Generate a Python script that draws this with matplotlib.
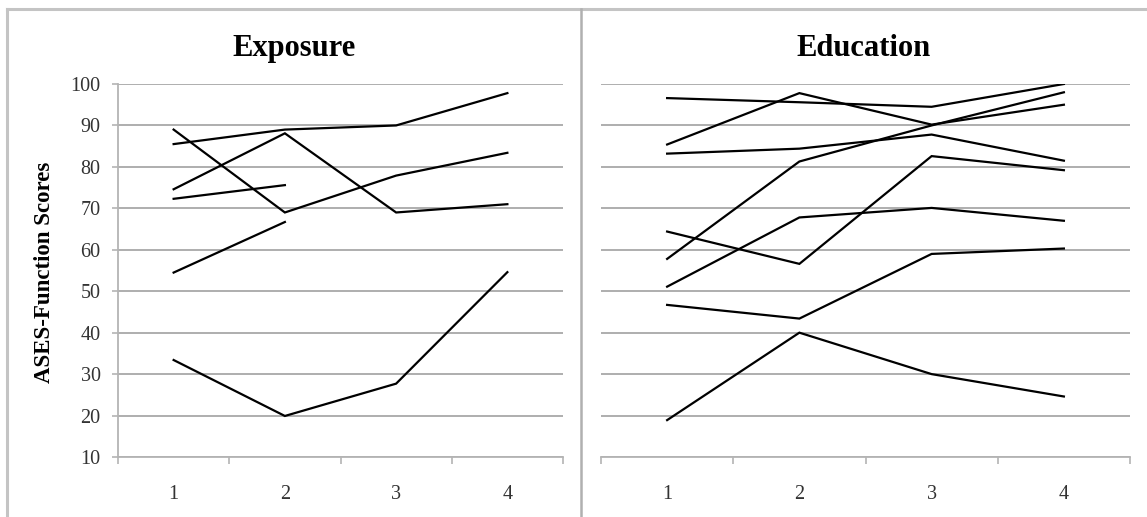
import numpy as np
import matplotlib
matplotlib.use("Agg")
from matplotlib import pyplot as plt
from matplotlib.lines import Line2D

plt.rcParams["font.family"] = ["Liberation Serif", "DejaVu Serif"]

# time points
visits = [1, 2, 3, 4]

# Exposure group, one list per subject (some have only two visits)
exposure = [
    [85.5, 89.0, 90.0, 97.8],
    [89.0, 69.0, 77.9, 83.4],
    [74.6, 88.1, 69.0, 71.0],
    [72.3, 75.6],
    [54.5, 66.7],
    [33.4, 19.9, 27.7, 54.6],
]

# Education group
education = [
    [96.6, 95.6, 94.5, 100.0],
    [85.4, 97.8, 90.2, 95.0],
    [83.2, 84.4, 87.8, 81.5],
    [57.8, 81.3, 90.0, 98.0],
    [64.4, 56.6, 82.6, 79.2],
    [51.1, 67.8, 70.1, 67.0],
    [46.7, 43.4, 59.0, 60.3],
    [18.9, 40.0, 30.0, 24.6],
]

W, H = 1147, 517
fig = plt.figure(figsize=(W / 100, H / 100), dpi=100)

grid_col = "#a8a8a8"
axis_col = "#b4b4b4"


def setup(ax, show_y):
    ax.set_xlim(0.5, 4.5)
    ax.set_ylim(10, 100)
    ax.set_yticks(np.arange(10, 101, 10))
    ax.set_xticks(visits)
    ax.set_xticks(np.arange(0.5, 4.6, 1), minor=True)
    ax.tick_params(axis="x", which="major", length=0, pad=20, labelsize=14.5,
                   colors="#333333")
    ax.tick_params(axis="x", which="minor", length=5, width=1.2, color=axis_col,
                   direction="out")
    ax.yaxis.grid(True, color=grid_col, lw=1.3)
    ax.set_axisbelow(True)
    for s in ["top", "right"]:
        ax.spines[s].set_visible(False)
    ax.spines["bottom"].set_color(axis_col)
    ax.spines["bottom"].set_linewidth(1.3)
    if show_y:
        ax.spines["left"].set_color(axis_col)
        ax.spines["left"].set_linewidth(1.3)
        ax.tick_params(axis="y", length=4, width=1.2, color=axis_col, pad=8.5,
                       labelsize=14.5, labelcolor="#333333")
    else:
        ax.spines["left"].set_visible(False)
        ax.tick_params(axis="y", length=0, labelleft=False)


ax1 = fig.add_axes([118 / W, 1 - 457 / H, (563 - 118) / W, (457 - 84) / H])
setup(ax1, True)
for ys in exposure:
    ax1.plot(visits[:len(ys)], ys, color="black", lw=1.6, solid_joinstyle="miter")

ax2 = fig.add_axes([601 / W, 1 - 457 / H, (1130 - 601) / W, (457 - 84) / H])
setup(ax2, False)
for ys in education:
    ax2.plot(visits[:len(ys)], ys, color="black", lw=1.6, solid_joinstyle="miter")

# titles centred on each chart area
fig.text(294 / W, 1 - 56 / H, "Exposure", ha="center", va="baseline",
         fontsize=22, fontweight="bold")
fig.text(864 / W, 1 - 56 / H, "Education", ha="center", va="baseline",
         fontsize=22, fontweight="bold")
fig.text(44 / W, 1 - 272 / H, "ASES-Function Scores", rotation=90,
         ha="center", va="center", fontsize=16.5, fontweight="bold")

# chart frames
frame = "#c4c4c4"
fig.add_artist(Line2D([7 / W, 1], [1 - 9 / H, 1 - 9 / H], transform=fig.transFigure,
                      color=frame, lw=2.2))
fig.add_artist(Line2D([7 / W, 7 / W], [0, 1 - 9 / H], transform=fig.transFigure,
                      color=frame, lw=2.2))
fig.add_artist(Line2D([581 / W, 581 / W], [0, 1 - 9 / H], transform=fig.transFigure,
                      color="#b0b0b0", lw=1.8))

fig.savefig("out.png", dpi=100)
